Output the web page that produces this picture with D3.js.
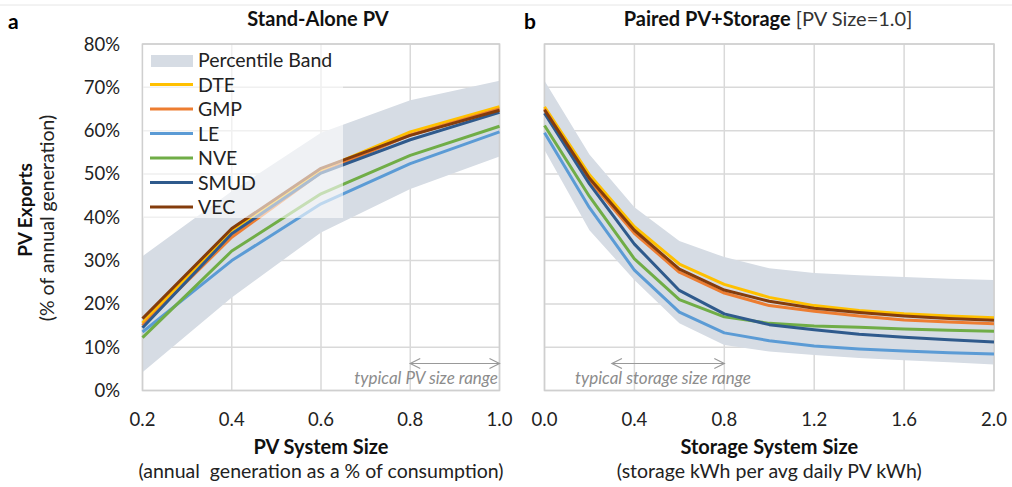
<!DOCTYPE html>
<html>
<head>
<meta charset="utf-8">
<script src="https://cdn.jsdelivr.net/npm/d3@7"></script>
<style>
body{margin:0;background:#fff;}
text{font-family:Lato, "Open Sans", sans-serif; white-space:pre;}
</style>
</head>
<body>
<div id="chart"></div>
<script>
var width=1012, height=487;

// data
var series=["DTE","GMP","LE","NVE","SMUD","VEC"];
var colors=["#FFC000","#ED7D31","#5B9BD5","#70AD47","#2F5A8C","#843C0C"];

var pvSize=[0.2,0.4,0.6,0.8,1.0];
var pvBandHi=[31,46,59.5,67,71.5];
var pvBandLo=[4.2,21.5,36.5,46.5,54];
var pvDTE=[15.6,37,51,59.7,65.5];
var pvGMP=[15,35.4,50.3,59,65];
var pvLE=[13.5,30,43.1,52.4,59.7];
var pvNVE=[12.2,32.2,45.4,54.3,61];
var pvSMUD=[14.5,36.2,50.2,57.9,64.2];
var pvVEC=[16.6,37.4,51.3,58.9,64.7];

var stSize=[0,0.2,0.4,0.6,0.8,1.0,1.2,1.4,1.6,1.8,2.0];
var stBandHi=[71.5,54.5,42.3,34.5,30.8,28.2,27.1,26.6,26.2,25.8,25.5];
var stBandLo=[55.5,37,25.5,15.5,10.5,9,8.2,7.5,7,6.5,6];
var stDTE=[65.5,49.8,37.8,29.2,24.5,21.5,19.6,18.5,17.7,17.2,16.8];
var stGMP=[65,48.5,36.3,27.3,22.5,19.6,18.3,17.2,16.3,15.8,15.4];
var stLE=[59.5,42.2,27.8,18.1,13.3,11.5,10.3,9.6,9.1,8.7,8.4];
var stNVE=[61.2,44.8,30.4,21,17,15.5,14.9,14.6,14.2,13.9,13.7];
var stSMUD=[64,47.7,33.8,23.1,17.7,15.2,14,13,12.3,11.7,11.2];
var stVEC=[64.8,49,37,28,23.2,20.6,19,18,17.2,16.6,16.2];

var yTicks=[0,10,20,30,40,50,60,70,80];
var pvTicks=[0.2,0.4,0.6,0.8,1.0];
var stTicks=[0,0.4,0.8,1.2,1.6,2.0];

var svg=d3.select('#chart').append('svg')
    .attr('width', width)
    .attr('height', height);

// faint line at top
svg.append('line').attr('x1',0).attr('x2',width).attr('y1',5).attr('y2',5)
    .style('stroke','#e6e6e6').style('stroke-width',1);

var y=d3.scaleLinear().domain([0,80]).range([390.5,44]);

function panel(opt){
    var x=d3.scaleLinear().domain(opt.domain).range(opt.range);
    var g=svg.append('g');

    // grid
    g.selectAll('.hg').data(yTicks).enter().append('line')
        .attr('x1',opt.range[0]).attr('x2',opt.range[1])
        .attr('y1',d=>y(d)).attr('y2',d=>y(d))
        .style('stroke','#d9d9d9').style('stroke-width',1.5);
    g.selectAll('.vg').data(opt.ticks).enter().append('line')
        .attr('x1',d=>x(d)).attr('x2',d=>x(d))
        .attr('y1',y(0)).attr('y2',y(80))
        .style('stroke','#d9d9d9').style('stroke-width',1.5);

    // band
    var area=d3.area().x((d,i)=>x(opt.xs[i])).y0((d,i)=>y(opt.lo[i])).y1(d=>y(d));
    g.append('path').datum(opt.hi).attr('d',area).style('fill','#d6dce4');

    // border
    g.append('rect').attr('x',opt.range[0]).attr('y',y(80))
        .attr('width',opt.range[1]-opt.range[0]).attr('height',y(0)-y(80))
        .style('fill','none').style('stroke','#cfcfcf').style('stroke-width',1.5);

    var line=d3.line().x((d,i)=>x(opt.xs[i])).y(d=>y(d));
    opt.lines.forEach(function(vals,k){
        g.append('path').datum(vals).attr('d',line)
            .style('fill','none').style('stroke',colors[k]).style('stroke-width',3)
            .style('stroke-linejoin','round');
    });

    // x tick labels
    g.selectAll('.xt').data(opt.ticks).enter().append('text')
        .attr('x',d=>x(d)).attr('y',426)
        .attr('text-anchor','middle').style('font-size','18.5px').style('fill','#222')
        .text(d=>d.toFixed(1));

    var cx=(opt.range[0]+opt.range[1])/2;
    g.append('text').attr('x',cx).attr('y',454).attr('text-anchor','middle')
        .style('font-size','20px').style('font-weight','bold').style('fill','#111').text(opt.xTitle);
    g.append('text').attr('x',cx).attr('y',478).attr('text-anchor','middle')
        .style('font-size','19.5px').style('fill','#222').text(opt.xSub);

    // annotation arrow
    var ay=363.5, ax0=x(opt.arrow[0]), ax1=x(opt.arrow[1]);
    var ann=g.append('g').style('stroke','#999').style('fill','none').style('stroke-width',1.2);
    ann.append('line').attr('x1',ax0).attr('x2',ax1).attr('y1',ay).attr('y2',ay);
    ann.append('path').attr('d','M'+(ax0+10)+','+(ay-5)+'L'+ax0+','+ay+'L'+(ax0+10)+','+(ay+5));
    ann.append('path').attr('d','M'+(ax1-10)+','+(ay-5)+'L'+ax1+','+ay+'L'+(ax1-10)+','+(ay+5));
    g.append('text').attr('x',opt.annX).attr('y',384).attr('text-anchor',opt.annAnchor)
        .style('font-size','17px').style('font-style','italic').style('fill','#8c8c8c')
        .text(opt.annText);
    return x;
}

panel({domain:[0.2,1.0], range:[142.5,499.5], ticks:pvTicks, xs:pvSize,
    hi:pvBandHi, lo:pvBandLo, lines:[pvDTE,pvGMP,pvLE,pvNVE,pvSMUD,pvVEC],
    xTitle:'PV System Size', xSub:'(annual  generation as a % of consumption)',
    arrow:[0.8,1.0], annText:'typical PV size range', annX:498, annAnchor:'end'});

panel({domain:[0,2.0], range:[544.5,994], ticks:stTicks, xs:stSize,
    hi:stBandHi, lo:stBandLo, lines:[stDTE,stGMP,stLE,stNVE,stSMUD,stVEC],
    xTitle:'Storage System Size', xSub:'(storage kWh per avg daily PV kWh)',
    arrow:[0.3,0.8], annText:'typical storage size range', annX:575, annAnchor:'start'});

// y tick labels
svg.selectAll('.yt').data(yTicks).enter().append('text')
    .attr('x',120).attr('y',d=>y(d)+6.5).attr('text-anchor','end')
    .style('font-size','18.5px').style('fill','#222').text(d=>d+'%');

// y axis title
svg.append('text').attr('transform','translate(32,210) rotate(-90)')
    .attr('text-anchor','middle').style('font-size','19px').style('font-weight','bold')
    .style('fill','#111').text('PV Exports');
svg.append('text').attr('transform','translate(54,218) rotate(-90)')
    .attr('text-anchor','middle').style('font-size','19.5px')
    .style('fill','#222').text('(% of annual generation)');

// panel titles
svg.append('text').attr('x',8).attr('y',29).style('font-size','21px').style('font-weight','bold').text('a');
svg.append('text').attr('x',524).attr('y',29).style('font-size','21px').style('font-weight','bold').text('b');
svg.append('text').attr('x',318).attr('y',26).attr('text-anchor','middle')
    .style('font-size','20px').style('font-weight','bold').style('fill','#111').text('Stand-Alone PV');
var t2=svg.append('text').attr('x',768).attr('y',26).attr('text-anchor','middle')
    .style('font-size','20px').style('fill','#111');
t2.append('tspan').style('font-weight','bold').text('Paired PV+Storage');
t2.append('tspan').style('fill','#333').text(' [PV Size=1.0]');

// legend
var lg=svg.append('g');
lg.append('rect').attr('x',143).attr('y',45).attr('width',200).attr('height',173)
    .style('fill','#fff').style('opacity',0.6);
lg.append('rect').attr('x',151).attr('y',55).attr('width',42).attr('height',12).style('fill','#d6dce4');
lg.append('text').attr('x',198).attr('y',67).style('font-size','19.5px').style('fill','#222').text('Percentile Band');
series.forEach(function(s,i){
    var ly=84.5+i*24.5;
    lg.append('line').attr('x1',150).attr('x2',193).attr('y1',ly).attr('y2',ly)
        .style('stroke',colors[i]).style('stroke-width',3);
    lg.append('text').attr('x',198).attr('y',ly+7).style('font-size','19.5px').style('fill','#222').text(s);
});
</script>
</body>
</html>
